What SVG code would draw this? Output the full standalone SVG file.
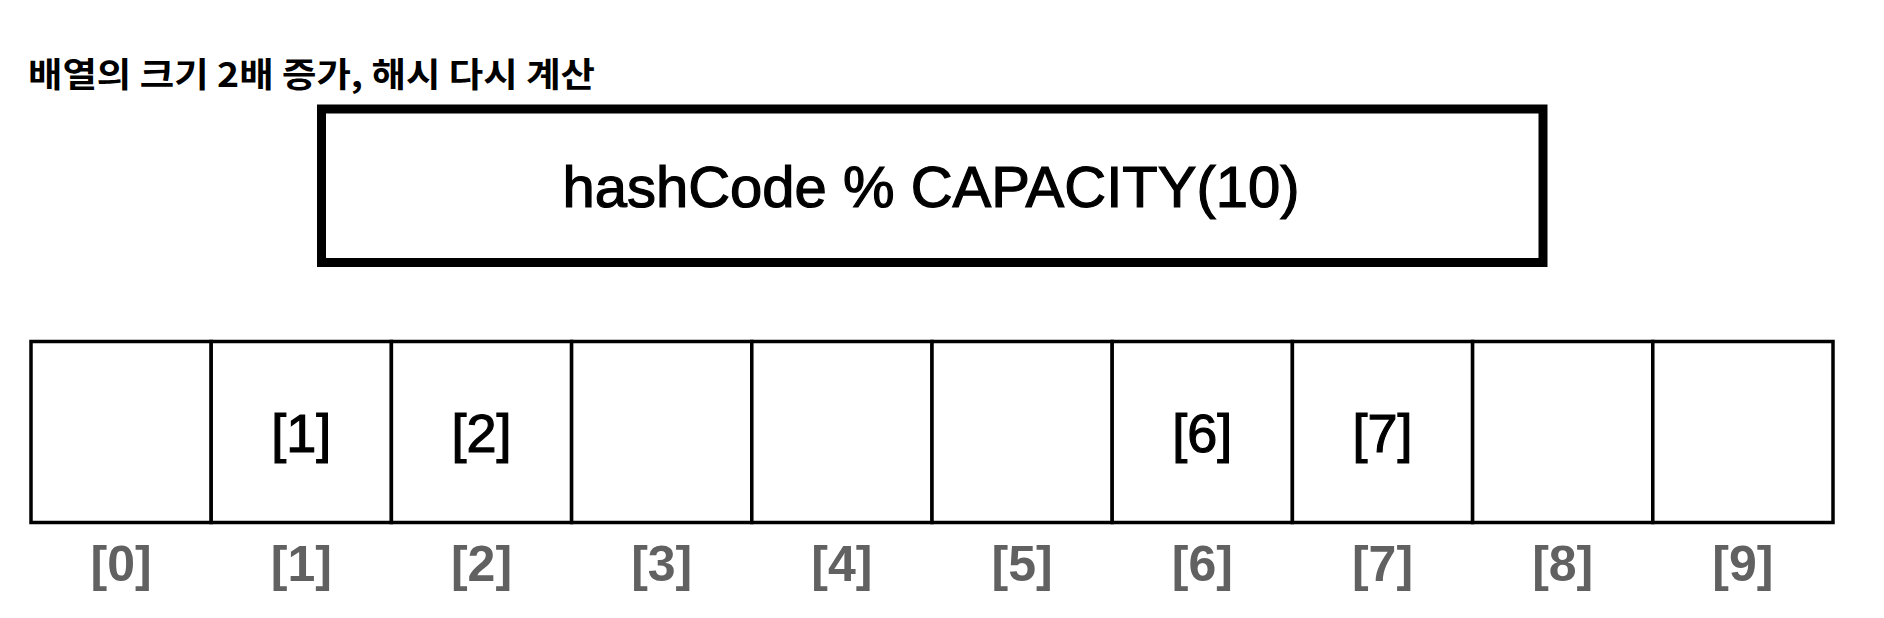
<svg xmlns="http://www.w3.org/2000/svg" width="1884" height="618" viewBox="0 0 1884 618">
<style>
.cell{fill:#fff;stroke:#000;stroke-width:3.5}
.val{font-family:"Liberation Sans",Arial,sans-serif;font-size:54px;fill:#000;stroke:#000;stroke-width:1.2;text-anchor:middle}
.idx{font-family:"Liberation Sans",Arial,sans-serif;font-size:50px;font-weight:bold;fill:#616161;text-anchor:middle}
</style>
<rect width="1884" height="618" fill="#fff"/>
<g id="title">
<text x="28" y="87" font-family="'Noto Sans CJK KR',sans-serif" font-weight="bold" font-size="34" textLength="567" lengthAdjust="spacingAndGlyphs" fill="#000">배열의 크기 2배 증가, 해시 다시 계산</text>
</g>
<g id="hash-box">
<rect x="321.5" y="109" width="1221.5" height="153.5" fill="#fff" stroke="#000" stroke-width="9"/>
<text x="931" y="207" font-family="'Liberation Sans',Arial,sans-serif" font-size="58" text-anchor="middle" fill="#000" stroke="#000" stroke-width="1.2">hashCode % CAPACITY(10)</text>
</g>
<g id="array">
<g id="cell0"><rect class="cell" x="31" y="341.5" width="180.2" height="181"/><text class="idx" x="121.1" y="581">[0]</text></g>
<g id="cell1"><rect class="cell" x="211.2" y="341.5" width="180.2" height="181"/><text class="val" x="301.3" y="452">[1]</text><text class="idx" x="301.3" y="581">[1]</text></g>
<g id="cell2"><rect class="cell" x="391.4" y="341.5" width="180.2" height="181"/><text class="val" x="481.5" y="452">[2]</text><text class="idx" x="481.5" y="581">[2]</text></g>
<g id="cell3"><rect class="cell" x="571.6" y="341.5" width="180.2" height="181"/><text class="idx" x="661.7" y="581">[3]</text></g>
<g id="cell4"><rect class="cell" x="751.8" y="341.5" width="180.2" height="181"/><text class="idx" x="841.9" y="581">[4]</text></g>
<g id="cell5"><rect class="cell" x="932" y="341.5" width="180.2" height="181"/><text class="idx" x="1022.1" y="581">[5]</text></g>
<g id="cell6"><rect class="cell" x="1112.2" y="341.5" width="180.2" height="181"/><text class="val" x="1202.3" y="452">[6]</text><text class="idx" x="1202.3" y="581">[6]</text></g>
<g id="cell7"><rect class="cell" x="1292.4" y="341.5" width="180.2" height="181"/><text class="val" x="1382.5" y="452">[7]</text><text class="idx" x="1382.5" y="581">[7]</text></g>
<g id="cell8"><rect class="cell" x="1472.6" y="341.5" width="180.2" height="181"/><text class="idx" x="1562.7" y="581">[8]</text></g>
<g id="cell9"><rect class="cell" x="1652.8" y="341.5" width="180.2" height="181"/><text class="idx" x="1742.9" y="581">[9]</text></g>
</g>
<g id="connectors"></g>
</svg>
